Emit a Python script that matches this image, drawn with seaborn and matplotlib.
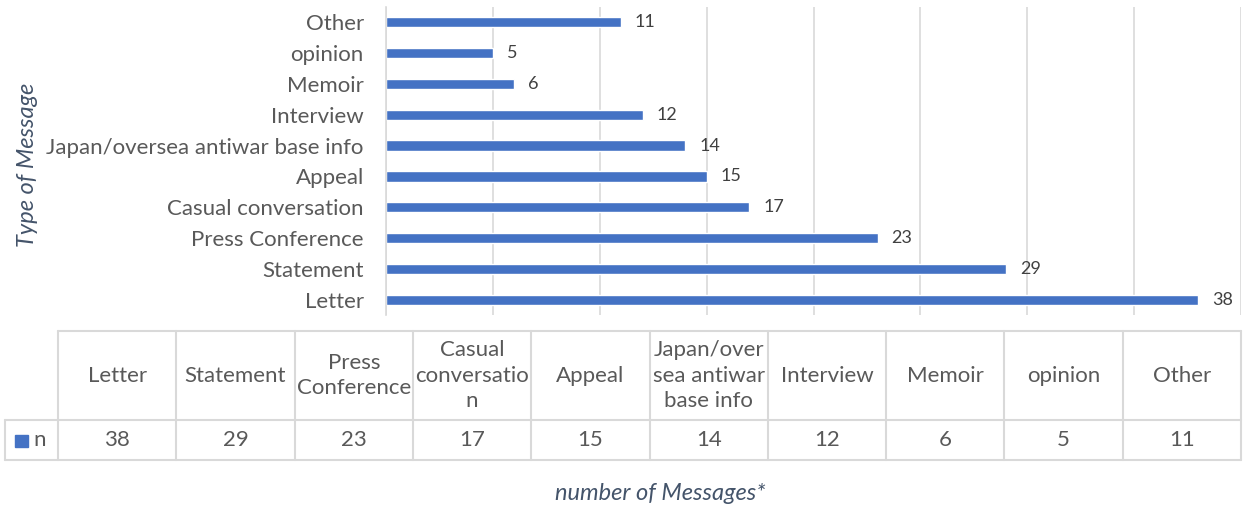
import matplotlib
matplotlib.use("Agg")
import matplotlib.pyplot as plt
import seaborn as sns
import pandas as pd
from matplotlib.lines import Line2D
from matplotlib.patches import Rectangle

# ---- data ----
categories = ["Letter", "Statement", "Press Conference", "Casual conversation", "Appeal",
              "Japan/oversea antiwar base info", "Interview", "Memoir", "opinion", "Other"]
counts = [38, 29, 23, 17, 15, 14, 12, 6, 5, 11]
table_headers = ["Letter", "Statement", "Press\nConference", "Casual\nconversatio\nn", "Appeal",
                 "Japan/over\nsea antiwar\nbase info", "Interview", "Memoir", "opinion", "Other"]
series_name = "n"
x_ticks = [0, 5, 10, 15, 20, 25, 30, 35, 40]
y_title = "Type of Message"
x_title = "number of Messages*"

BLUE = "#4472C4"
GRID = "#D9D9D9"
TXT = "#595959"
TITLE = "#44546A"

sns.set_theme(style="white")
plt.rcParams['font.family'] = ['Lato', 'DejaVu Sans']

W, H = 1246, 508
fig = plt.figure(figsize=(W / 100, H / 100), dpi=100)

def fx(px):
    return px / W

def fy(py):
    return 1 - py / H

FS = 16

# main bar axes
top_px, bot_px = 6.6, 315.4
ax = fig.add_axes([fx(386), fy(bot_px), fx(1241) - fx(386), fy(top_px) - fy(bot_px)])
df = pd.DataFrame({"type": categories, "n": counts})
order = categories[::-1]
sns.barplot(data=df, y="type", x="n", order=order, color=BLUE, saturation=1,
            width=0.33, ax=ax, errorbar=None)
ax.set_xlim(x_ticks[0], x_ticks[-1])
ax.set_xticks(x_ticks)
ax.xaxis.grid(True, color=GRID, lw=1.2)
ax.set_axisbelow(True)
ax.tick_params(axis='x', labelbottom=False, length=0)
ax.tick_params(axis='y', length=0, pad=16, labelsize=FS, labelcolor=TXT)
ax.set_xlabel("")
ax.set_ylabel("")
for s in ["top", "right", "bottom"]:
    ax.spines[s].set_visible(False)
ax.spines["left"].set_color(GRID)
ax.spines["left"].set_linewidth(1.2)
ax.bar_label(ax.containers[0], padding=10, color="#404040", fontsize=13)

fig.text(fx(28), fy(165), y_title, rotation=90, ha="center", va="center",
         fontsize=17, style="italic", color=TITLE)
fig.text(fx(660), fy(494), x_title, ha="center", va="center",
         fontsize=17, style="italic", color=TITLE)

# ---- data table ----
x0, cw = 58, (1241 - 58) / len(categories)
y_top, y_mid, y_bot = 331, 420, 460
lkw = dict(color=GRID, lw=1.5, transform=fig.transFigure)
fig.add_artist(Line2D([fx(x0), fx(1241)], [fy(y_top)] * 2, **lkw))
fig.add_artist(Line2D([fx(5), fx(1241)], [fy(y_mid)] * 2, **lkw))
fig.add_artist(Line2D([fx(5), fx(1241)], [fy(y_bot)] * 2, **lkw))
fig.add_artist(Line2D([fx(5)] * 2, [fy(y_mid), fy(y_bot)], **lkw))
for i in range(len(categories) + 1):
    xx = x0 + i * cw
    fig.add_artist(Line2D([fx(xx)] * 2, [fy(y_top), fy(y_bot)], **lkw))
for i, (hdr, v) in enumerate(zip(table_headers, counts)):
    cx = x0 + (i + 0.5) * cw
    fig.text(fx(cx), fy((y_top + y_mid) / 2), hdr, ha="center", va="center",
             fontsize=FS, color=TXT, linespacing=1.35)
    fig.text(fx(cx), fy((y_mid + y_bot) / 2), str(v), ha="center", va="center",
             fontsize=FS, color=TXT)
fig.add_artist(Rectangle((fx(15), fy(447)), fx(13), fy(435) - fy(447),
                         color=BLUE, transform=fig.transFigure))
fig.text(fx(33), fy(440), series_name, ha="left", va="center", fontsize=FS, color=TXT)

fig.savefig("out.png", dpi=100)
